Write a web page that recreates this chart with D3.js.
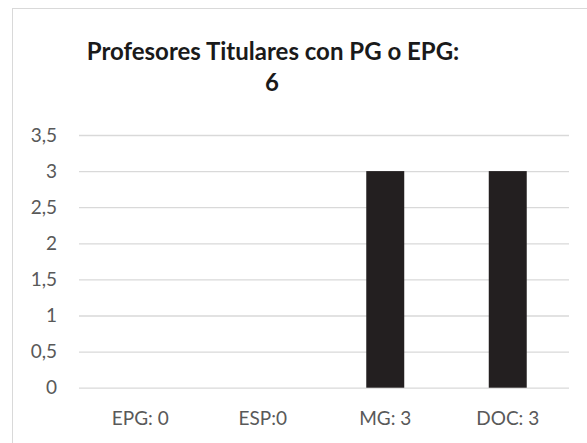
<!DOCTYPE html>
<html>
<head>
<meta charset="utf-8">
<script src="https://cdn.jsdelivr.net/npm/d3@7"></script>
<style>
  body { margin: 0; background: #fff; }
  svg { display: block; font-family: Lato, "Open Sans", sans-serif; }
  .tick text { fill: #595959; font-size: 19px; font-family: Lato, "Open Sans", sans-serif; }
</style>
</head>
<body>
<svg id="chart" width="587" height="443"></svg>
<script>
// Data
const categories = ["EPG: 0", "ESP:0", "MG: 3", "DOC: 3"];
const values = [0, 0, 3, 3];
const yTicks = [0, 0.5, 1, 1.5, 2, 2.5, 3, 3.5];
const titleLines = ["Profesores Titulares con PG o EPG:", "6"];

const margin = { top: 135, left: 79, right: 18, bottom: 55 };
const W = 587, H = 443;
const plotW = 569 - margin.left;
const plotH = 387.7 - margin.top;

const svg = d3.select("#chart");

// chart border (extends past the picture on right/bottom)
svg.append("rect")
  .attr("x", 12.5).attr("y", 8.5)
  .attr("width", 600).attr("height", 460)
  .attr("fill", "#fff")
  .attr("stroke", "#d9d9d9")
  .attr("stroke-width", 1);

// Title
const title = svg.append("text")
  .attr("text-anchor", "middle")
  .attr("font-weight", "bold")
  .attr("font-size", 24)
  .attr("fill", "#1a1a1a");
title.append("tspan").attr("x", 273).attr("y", 60).text(titleLines[0]);
title.append("tspan").attr("x", 272).attr("y", 91).text(titleLines[1]);

const g = svg.append("g").attr("transform", `translate(${margin.left},${margin.top})`);

const x = d3.scaleBand().domain(categories).range([0, plotW]).paddingInner(0.69).paddingOuter(0.345);
const y = d3.scaleLinear().domain([0, 3.5]).range([plotH, 0]);

// Gridlines + y labels
const yAxis = d3.axisLeft(y)
  .tickValues(yTicks)
  .tickSize(-plotW)
  .tickPadding(22)
  .tickFormat(d => String(d).replace(".", ","));
g.append("g").call(yAxis)
  .call(s => s.select(".domain").remove())
  .call(s => s.selectAll(".tick line").attr("stroke", "#d9d9d9").attr("stroke-width", 1.3));

// Bars
g.selectAll(".bar")
  .data(values)
  .join("rect")
  .attr("class", "bar")
  .attr("x", (d, i) => x(categories[i]))
  .attr("y", d => y(d))
  .attr("width", x.bandwidth())
  .attr("height", d => plotH - y(d))
  .attr("fill", "#231f20");

// X axis labels
const xAxis = d3.axisBottom(x).tickSize(0).tickPadding(24);
g.append("g").attr("transform", `translate(0,${plotH})`).call(xAxis)
  .call(s => s.select(".domain").remove());
</script>
</body>
</html>
